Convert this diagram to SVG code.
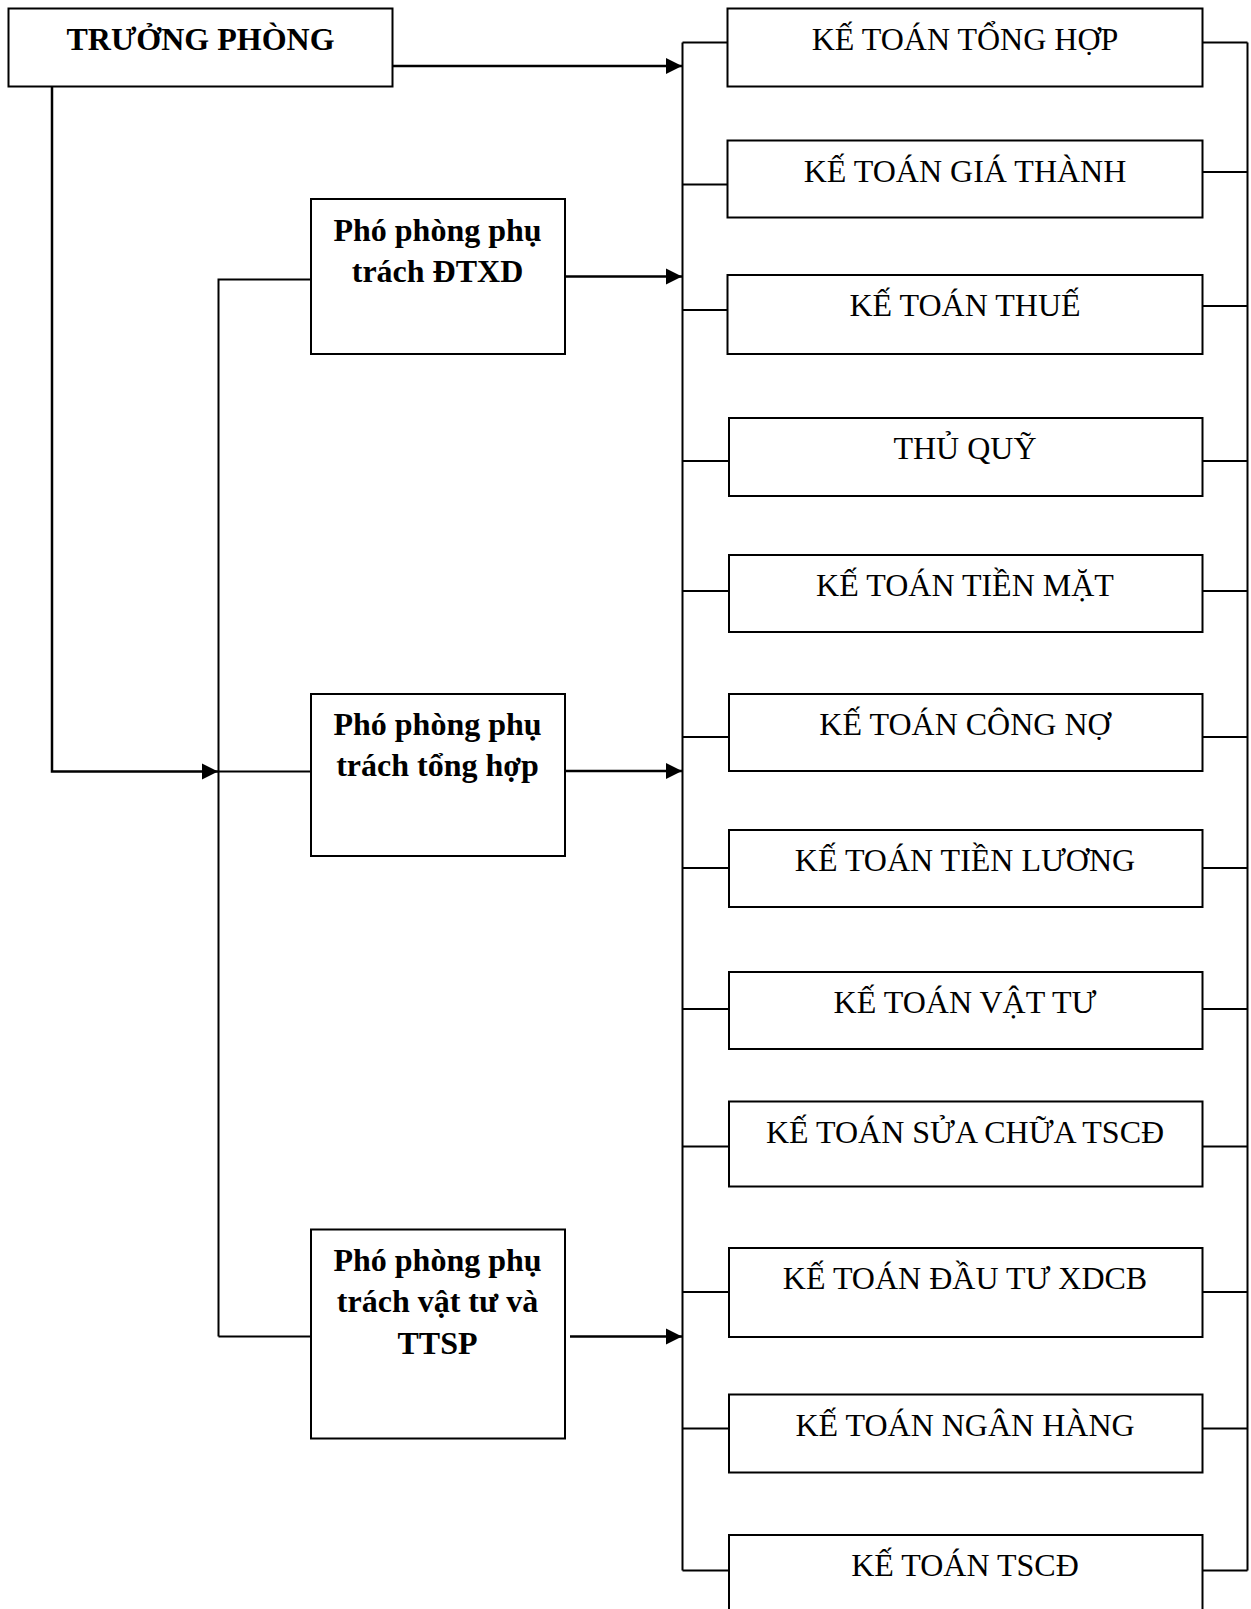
<svg xmlns="http://www.w3.org/2000/svg" width="1251" height="1609" viewBox="0 0 1251 1609">
<style>
.box{fill:#fff;stroke:#000;stroke-width:2}
.ln{fill:none;stroke:#000;stroke-width:2}
.ar{fill:none;stroke:#000;stroke-width:2.5}
.t{font-family:"Liberation Serif","Times New Roman",serif;font-size:32px;fill:#000;text-anchor:middle}
.b{font-weight:bold;font-size:32px}
</style>
<defs>
<marker id="ah" markerUnits="userSpaceOnUse" markerWidth="17" markerHeight="17" refX="16" refY="8.5" orient="auto">
<path d="M0,0.5 L16,8.5 L0,16.5 Z" fill="#000"/>
</marker>
</defs>
<rect width="1251" height="1609" fill="#fff"/>
<g id="connectors">
<path class="ar" d="M392.5,66 H682" marker-end="url(#ah)"/>
<path class="ar" d="M52,86.5 V771.5 H218" marker-end="url(#ah)"/>
<path class="ln" d="M218.5,1336.5 V279.5 H311"/>
<path class="ln" d="M218.5,771.5 H311"/>
<path class="ln" d="M218.5,1336.5 H311"/>
<path class="ar" d="M565,276.5 H682" marker-end="url(#ah)"/>
<path class="ar" d="M565,771 H682" marker-end="url(#ah)"/>
<path class="ar" d="M570,1336.5 H682" marker-end="url(#ah)"/>
<path class="ln" d="M682.5,42.5 V1570.5"/>
<path class="ln" d="M1247.5,42.5 V1570.5"/>
<path class="ln" d="M682.5,42.5 H727.5 M682.5,184.5 H727.5 M682.5,310 H727.5 M682.5,461 H729 M682.5,591 H729 M682.5,737 H729 M682.5,868 H729 M682.5,1009 H729 M682.5,1146.5 H729 M682.5,1292 H729 M682.5,1428.5 H729 M682.5,1570.5 H729"/>
<path class="ln" d="M1202.5,42.5 H1247.5 M1202.5,172 H1247.5 M1202.5,306 H1247.5 M1202.5,461 H1247.5 M1202.5,591 H1247.5 M1202.5,737 H1247.5 M1202.5,868 H1247.5 M1202.5,1009 H1247.5 M1202.5,1146.5 H1247.5 M1202.5,1292 H1247.5 M1202.5,1428.5 H1247.5 M1202.5,1570.5 H1247.5"/>
</g>
<g id="truong-phong"><rect class="box" x="8.5" y="8.5" width="384" height="78"/><text class="t b" x="200.5" y="50">TRƯỞNG PHÒNG</text></g>
<g id="pp-dtxd"><rect class="box" x="311" y="199" width="254" height="155"/><text class="t b" x="437.5" y="241">Phó phòng phụ</text><text class="t b" x="437.5" y="282">trách ĐTXD</text></g>
<g id="pp-tonghop"><rect class="box" x="311" y="694" width="254" height="162"/><text class="t b" x="437.5" y="735">Phó phòng phụ</text><text class="t b" x="437.5" y="776">trách tổng hợp</text></g>
<g id="pp-vattu"><rect class="box" x="311" y="1229.5" width="254" height="209"/><text class="t b" x="437.5" y="1271">Phó phòng phụ</text><text class="t b" x="437.5" y="1312">trách vật tư và</text><text class="t b" x="437.5" y="1354">TTSP</text></g>
<g id="kt-tonghop"><rect class="box" x="727.5" y="8.5" width="475" height="78"/><text class="t" x="965" y="49.5">KẾ TOÁN TỔNG HỢP</text></g>
<g id="kt-giathanh"><rect class="box" x="727.5" y="140.5" width="475" height="77"/><text class="t" x="965" y="181.5">KẾ TOÁN GIÁ THÀNH</text></g>
<g id="kt-thue"><rect class="box" x="727.5" y="275" width="475" height="79"/><text class="t" x="965" y="316">KẾ TOÁN THUẾ</text></g>
<g id="thu-quy"><rect class="box" x="729" y="418" width="473.5" height="78"/><text class="t" x="965" y="459">THỦ QUỸ</text></g>
<g id="kt-tienmat"><rect class="box" x="729" y="555" width="473.5" height="77"/><text class="t" x="965" y="596">KẾ TOÁN TIỀN MẶT</text></g>
<g id="kt-congno"><rect class="box" x="729" y="694" width="473.5" height="77"/><text class="t" x="965" y="735">KẾ TOÁN CÔNG NỢ</text></g>
<g id="kt-tienluong"><rect class="box" x="729" y="830" width="473.5" height="77"/><text class="t" x="965" y="871">KẾ TOÁN TIỀN LƯƠNG</text></g>
<g id="kt-vattu"><rect class="box" x="729" y="972" width="473.5" height="77"/><text class="t" x="965" y="1013">KẾ TOÁN VẬT TƯ</text></g>
<g id="kt-suachua"><rect class="box" x="729" y="1101.5" width="473.5" height="85"/><text class="t" x="965" y="1142.5">KẾ TOÁN SỬA CHỮA TSCĐ</text></g>
<g id="kt-dautu"><rect class="box" x="729" y="1248" width="473.5" height="89"/><text class="t" x="965" y="1289">KẾ TOÁN ĐẦU TƯ XDCB</text></g>
<g id="kt-nganhang"><rect class="box" x="729" y="1394.5" width="473.5" height="78"/><text class="t" x="965" y="1435.5">KẾ TOÁN NGÂN HÀNG</text></g>
<g id="kt-tscd"><rect class="box" x="729" y="1535" width="473.5" height="90"/><text class="t" x="965" y="1576">KẾ TOÁN TSCĐ</text></g>
</svg>
